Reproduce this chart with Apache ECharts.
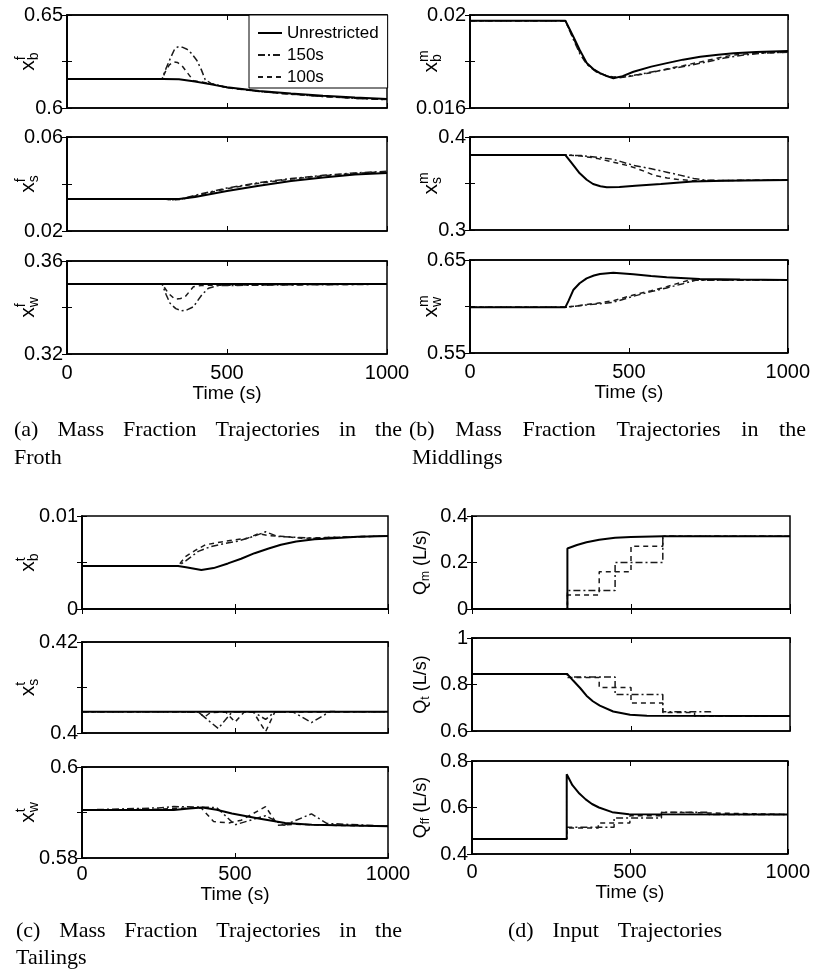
<!DOCTYPE html>
<html><head><meta charset="utf-8">
<script src="https://cdn.jsdelivr.net/npm/echarts@6/dist/echarts.min.js"></script>
<style>html,body{margin:0;padding:0;background:#fff}#c{width:813px;height:974px}</style>
</head><body><div id="c"></div>
<script>
// ---------------- DATA ----------------
const SERIES_NAMES = ['Unrestricted', '150s', '100s'];
const TIME_TICKS = [0, 500, 1000];
const TIME_LABEL = 'Time (s)';

// (a) Froth
const xbF_unres = [[0,0.6156],[300,0.6156],[350,0.6154],[400,0.6143],[450,0.6127],[500,0.6112],[600,0.6092],[700,0.6078],[800,0.6066],[900,0.6056],[1000,0.6048]];
const xbF_150 = [[0,0.6156],[297,0.6156],[310,0.6215],[323,0.6267],[335,0.6312],[345,0.6328],[360,0.6327],[375,0.6316],[390,0.6292],[406,0.6255],[420,0.6205],[432,0.6152],[450,0.6132],[500,0.6110],[600,0.6089],[700,0.6074],[800,0.6062],[900,0.6052],[1000,0.6045]];
const xbF_100 = [[0,0.6156],[297,0.6156],[310,0.6205],[320,0.6232],[333,0.6248],[345,0.6245],[360,0.6226],[375,0.6192],[395,0.6147],[450,0.6131],[500,0.6109],[600,0.6089],[700,0.6074],[800,0.6062],[900,0.6052],[1000,0.6045]];

const xsF_unres = [[0,0.0336],[350,0.0336],[400,0.0345],[500,0.0370],[600,0.0393],[700,0.0413],[800,0.0428],[900,0.0440],[1000,0.0447]];
const xsF_150 = [[0,0.0336],[300,0.0336],[330,0.0333],[360,0.0337],[400,0.0352],[500,0.0383],[600,0.0406],[700,0.0423],[800,0.0437],[900,0.0447],[1000,0.0454]];
const xsF_100 = [[0,0.0336],[300,0.0336],[330,0.0332],[360,0.0335],[400,0.0349],[500,0.0380],[600,0.0403],[700,0.0421],[800,0.0435],[900,0.0445],[1000,0.0452]];

const xwF_unres = [[0,0.3501],[1000,0.3501]];
const xwF_150 = [[0,0.3501],[297,0.3501],[310,0.3455],[322,0.3418],[340,0.3395],[358,0.3386],[375,0.3390],[395,0.3403],[421,0.3454],[442,0.3483],[470,0.3494],[600,0.3496],[800,0.3498],[1000,0.3500]];
const xwF_100 = [[0,0.3501],[297,0.3501],[317,0.3461],[337,0.3436],[355,0.3439],[369,0.3446],[395,0.3489],[420,0.3495],[600,0.3497],[800,0.3499],[1000,0.3500]];

// (b) Middlings
const xbM_unres = [[0,0.01975],[300,0.01975],[325,0.01907],[345,0.01850],[367,0.01794],[390,0.01765],[409,0.01750],[430,0.01737],[451,0.01728],[480,0.01737],[514,0.01756],[570,0.01778],[619,0.01793],[670,0.01808],[724,0.01820],[780,0.01829],[829,0.01835],[900,0.01841],[1000,0.01845]];
const xbM_150 = [[0,0.01975],[300,0.01975],[325,0.01895],[345,0.01835],[367,0.01788],[400,0.01752],[440,0.01734],[480,0.01732],[530,0.01744],[600,0.01762],[680,0.01780],[740,0.01797],[800,0.01815],[860,0.01828],[920,0.01836],[1000,0.01840]];
const xbM_100 = [[0,0.01975],[300,0.01975],[325,0.01900],[345,0.01840],[367,0.01790],[400,0.01755],[430,0.01738],[467,0.01730],[520,0.01740],[570,0.01752],[619,0.01768],[670,0.01782],[724,0.01798],[780,0.01815],[829,0.01828],[900,0.01836],[1000,0.01840]];

const xsM_unres = [[0,0.3806],[300,0.3806],[320,0.3720],[345,0.3610],[367,0.3540],[387,0.3495],[410,0.3470],[430,0.3459],[470,0.3462],[520,0.3475],[600,0.3495],[700,0.3522],[800,0.3530],[1000,0.3538]];
const xsM_150 = [[0,0.3806],[300,0.3806],[350,0.3800],[409,0.3780],[450,0.3760],[475,0.3735],[514,0.3695],[570,0.3658],[619,0.3622],[660,0.3590],[703,0.3555],[740,0.3536],[800,0.3532],[1000,0.3538]];
const xsM_100 = [[0,0.3806],[300,0.3806],[350,0.3795],[400,0.3770],[450,0.3730],[500,0.3690],[550,0.3630],[577,0.3590],[620,0.3560],[650,0.3545],[700,0.3530],[1000,0.3538]];

const xwM_unres = [[0,0.5991],[300,0.5991],[310,0.6060],[325,0.6177],[345,0.6250],[367,0.6303],[390,0.6333],[409,0.6349],[451,0.6364],[514,0.6346],[570,0.6328],[619,0.6314],[723,0.6296],[850,0.6289],[1000,0.6285]];
const xwM_150 = [[0,0.5991],[300,0.5991],[360,0.6015],[410,0.6030],[451,0.6045],[514,0.6110],[570,0.6160],[619,0.6200],[670,0.6245],[710,0.6282],[1000,0.6285]];
const xwM_100 = [[0,0.5991],[300,0.5991],[367,0.6022],[400,0.6035],[451,0.6062],[514,0.6124],[570,0.6170],[619,0.6213],[660,0.6255],[692,0.6285],[1000,0.6285]];

// (c) Tailings
const xbT_unres = [[0,0.00462],[314,0.00462],[340,0.00450],[390,0.00420],[430,0.00440],[477,0.00490],[520,0.00540],[564,0.00600],[610,0.00650],[650,0.00690],[700,0.00725],[760,0.00750],[820,0.00762],[900,0.00778],[1000,0.00785]];
const xbT_150 = [[0,0.00462],[314,0.00462],[340,0.00520],[380,0.00620],[420,0.00670],[460,0.00700],[510,0.00730],[560,0.00780],[600,0.00830],[640,0.00780],[700,0.00770],[760,0.00760],[820,0.00770],[1000,0.00785]];
const xbT_100 = [[0,0.00462],[314,0.00462],[337,0.00560],[370,0.00630],[403,0.00690],[436,0.00710],[490,0.00740],[540,0.00760],[577,0.00810],[610,0.00790],[664,0.00780],[718,0.00760],[800,0.00770],[1000,0.00785]];

const xsT_unres = [[0,0.40468],[1000,0.40468]];
const xsT_150 = [[0,0.40468],[300,0.40468],[380,0.4046],[445,0.4010],[490,0.4046],[560,0.4046],[600,0.4030],[630,0.4046],[690,0.4046],[750,0.4023],[810,0.4047],[1000,0.40468]];
const xsT_100 = [[0,0.40468],[300,0.40468],[380,0.4046],[400,0.4035],[420,0.4045],[470,0.4046],[500,0.4024],[530,0.4046],[560,0.4046],[600,0.4003],[630,0.4046],[1000,0.40468]];

const xwT_unres = [[0,0.59055],[300,0.59055],[350,0.5909],[393,0.5911],[440,0.5906],[490,0.5898],[577,0.5887],[664,0.5877],[751,0.5873],[1000,0.5870]];
const xwT_150 = [[0,0.59055],[250,0.5910],[300,0.5913],[440,0.5911],[500,0.5873],[560,0.5885],[600,0.5893],[660,0.5872],[750,0.5897],[800,0.5876],[1000,0.5870]];
const xwT_100 = [[0,0.59055],[250,0.5907],[300,0.5909],[390,0.5910],[430,0.5880],[480,0.5877],[520,0.5883],[600,0.5913],[640,0.5872],[700,0.5874],[800,0.5872],[1000,0.5870]];

// (d) Inputs
const Qm_unres = [[0,0],[300,0],[300,0.26],[330,0.275],[360,0.287],[400,0.298],[450,0.306],[500,0.310],[600,0.313],[1000,0.313]];
const Qm_150 = [[0,0],[300,0],[300,0.08],[450,0.08],[450,0.20],[600,0.20],[600,0.313],[1000,0.313]];
const Qm_100 = [[0,0],[300,0],[300,0.06],[400,0.06],[400,0.16],[500,0.16],[500,0.27],[600,0.27],[600,0.313],[1000,0.313]];

const Qt_unres = [[0,0.845],[300,0.845],[318,0.817],[340,0.785],[360,0.752],[380,0.728],[402,0.709],[444,0.684],[497,0.670],[550,0.666],[1000,0.665]];
const Qt_150 = [[0,0.845],[300,0.845],[300,0.832],[450,0.832],[450,0.757],[600,0.757],[600,0.683],[750,0.683],[750,0.665],[1000,0.665]];
const Qt_100 = [[0,0.845],[300,0.845],[300,0.830],[400,0.830],[400,0.787],[500,0.787],[500,0.720],[600,0.720],[600,0.680],[700,0.680],[700,0.665],[1000,0.665]];

const Qff_unres = [[0,0.465],[300,0.465],[300,0.743],[318,0.696],[340,0.660],[360,0.635],[380,0.615],[402,0.600],[444,0.580],[497,0.571],[1000,0.570]];
const Qff_150 = [[0,0.465],[300,0.465],[300,0.515],[450,0.515],[450,0.555],[600,0.555],[600,0.580],[750,0.580],[750,0.570],[1000,0.570]];
const Qff_100 = [[0,0.465],[300,0.465],[300,0.512],[400,0.512],[400,0.533],[500,0.533],[500,0.565],[600,0.565],[600,0.578],[700,0.578],[700,0.570],[1000,0.570]];

// Y-axis ranges: [min, max, interval]
const Y_RANGES = {
  xbF:[0.6,0.65,0.025], xsF:[0.02,0.06,0.02], xwF:[0.32,0.36,0.02],
  xbM:[0.016,0.02,0.002], xsM:[0.3,0.4,0.05], xwM:[0.55,0.65,0.05],
  xbT:[0,0.01,0.005], xsT:[0.4,0.42,0.01], xwT:[0.58,0.6,0.01],
  Qm:[0,0.4,0.2], Qt:[0.6,1,0.2], Qff:[0.4,0.8,0.2]
};

// ---------------- LAYOUT / STYLE ----------------
const NARROW = '"Liberation Sans Narrow","Arial Narrow","Liberation Sans",sans-serif';
const SERIF = '"Liberation Serif","Times New Roman",serif';
const mctx = document.createElement('canvas').getContext('2d');
function tw(text, size, fam){ mctx.font = size + 'px ' + fam; return mctx.measureText(text).width; }

const X = (p)=>[{t:'x',s:21},{t:p[0],s:14,dy:-7},{t:p[1],s:14,dy:6,stack:true}];
const Q = (sub)=>[{t:'Q',s:18},{t:sub,s:12,dy:5},{t:' (L/s)',s:18}];

const subplots = [
  {key:'xbF', data:[xbF_unres,xbF_150,xbF_100], g:[67,15,320,93], lab:X(['f','b']), lx:28},
  {key:'xsF', data:[xsF_unres,xsF_150,xsF_100], g:[67,137,320,94], lab:X(['f','s']), lx:28},
  {key:'xwF', data:[xwF_unres,xwF_150,xwF_100], g:[67,261,320,93], lab:X(['f','w']), lx:28, showX:true, lm:9, ng:25},
  {key:'xbM', data:[xbM_unres,xbM_150,xbM_100], g:[470,15,318,93], lab:X(['m','b']), lx:431},
  {key:'xsM', data:[xsM_unres,xsM_150,xsM_100], g:[470,137,318,93], lab:X(['m','s']), lx:431},
  {key:'xwM', data:[xwM_unres,xwM_150,xwM_100], g:[470,260,318,93], lab:X(['m','w']), lx:431, showX:true, lm:9, ng:25},
  {key:'xbT', data:[xbT_unres,xbT_150,xbT_100], g:[82,516,306,93], lab:X(['t','b']), lx:28},
  {key:'xsT', data:[xsT_unres,xsT_150,xsT_100], g:[82,642,306,91], lab:X(['t','s']), lx:28},
  {key:'xwT', data:[xwT_unres,xwT_150,xwT_100], g:[82,767,306,91], lab:X(['t','w']), lx:28, showX:true, lm:6, ng:17},
  {key:'Qm', data:[Qm_unres,Qm_150,Qm_100], g:[472,516,318,93], lab:Q('m'), lx:421, all:true},
  {key:'Qt', data:[Qt_unres,Qt_150,Qt_100], g:[472,638,318,93], lab:Q('t'), lx:421, all:true},
  {key:'Qff', data:[Qff_unres,Qff_150,Qff_100], g:[472,761,318,93], lab:Q('ff'), lx:421, all:true, showX:true, lm:8, ng:23}
];

const LINE_STYLES = [
  {color:'#000', width:2, type:'solid'},
  {color:'#1a1a1a', width:1.5, type:[7,3,2,3]},
  {color:'#1a1a1a', width:1.5, type:[5,4]}
];

function fmt(v){ return String(parseFloat(v.toFixed(6))); }

const grids = [], xAxes = [], yAxes = [], series = [], graphics = [];
const axisLineStyle = {show:true, lineStyle:{color:'#000', width:1.5}};
const tickStyle = {show:true, inside:true, length:5, lineStyle:{color:'#000', width:1}};

subplots.forEach((sp, i) => {
  const [l,t,w,h] = sp.g;
  grids.push({left:l, top:t, width:w, height:h, show:true, borderColor:'#000', borderWidth:1.5, containLabel:false});
  const common = {type:'value', gridIndex:i, min:TIME_TICKS[0], max:TIME_TICKS[TIME_TICKS.length-1], interval:TIME_TICKS[1]-TIME_TICKS[0],
    axisLine:axisLineStyle, axisTick:tickStyle, splitLine:{show:false}};
  xAxes.push(Object.assign({}, common, {position:'bottom',
    axisLabel:{show:!!sp.showX, fontSize:20, fontFamily:NARROW, color:'#000', margin:sp.lm||8, formatter: v => String(v)},
    name: sp.showX ? TIME_LABEL : '', nameLocation:'middle', nameGap: sp.ng||26,
    nameTextStyle:{fontSize:19, fontFamily:NARROW, color:'#000'}}));
  xAxes.push(Object.assign({}, common, {position:'top', axisLabel:{show:false}}));
  const [ymin,ymax,yint] = Y_RANGES[sp.key];
  const ycommon = {type:'value', gridIndex:i, min:ymin, max:ymax, interval:yint,
    axisLine:axisLineStyle, axisTick:tickStyle, splitLine:{show:false}};
  yAxes.push(Object.assign({}, ycommon, {position:'left',
    axisLabel:{show:true, fontSize:20, fontFamily:NARROW, color:'#000', margin:4,
      formatter: v => (sp.all || Math.abs(v-ymin) < 1e-9 || Math.abs(v-ymax) < 1e-9) ? fmt(v) : ''}}));
  yAxes.push(Object.assign({}, ycommon, {position:'right', axisLabel:{show:false}}));

  sp.data.forEach((d, k) => {
    series.push({type:'line', name:SERIES_NAMES[k], data:d, xAxisIndex:2*i, yAxisIndex:2*i,
      symbol:'none', showSymbol:false, lineStyle:LINE_STYLES[k], itemStyle:{color:LINE_STYLES[k].color},
      z: k===0 ? 4 : 3, silent:true, animation:false, clip:true});
  });

  // rotated math label
  let x = 0, prevStart = 0; const items = [];
  sp.lab.forEach(p => {
    const wd = tw(p.t, p.s, NARROW);
    const start = p.stack ? prevStart : x;
    items.push({t:p.t, s:p.s, dy:p.dy||0, x:start});
    if (!p.stack) prevStart = start;
    x = Math.max(x, start + wd);
  });
  const off = -x/2;
  graphics.push({type:'group', x:sp.lx, y:t + h/2, rotation:Math.PI/2,
    children: items.map(it => ({type:'text', x:it.x + off, y:it.dy,
      style:{text:it.t, fontSize:it.s, fontFamily:NARROW, fill:'#000', verticalAlign:'middle', align:'left'}}))});
});

// captions
const CAPTIONS = [
  {words:'(a) Mass Fraction Trajectories in the', x0:14, x1:402, y:430},
  {words:'Froth', x0:14, y:458},
  {words:'(b) Mass Fraction Trajectories in the', x0:409, x1:806, y:430},
  {words:'Middlings', x0:412, y:458},
  {words:'(c) Mass Fraction Trajectories in the', x0:16, x1:402, y:931},
  {words:'Tailings', x0:16, y:958},
  {words:'(d) Input Trajectories', x0:508, x1:722, y:931}
];
const CAP_SIZE = 22;
CAPTIONS.forEach(c => {
  const ws = c.words.split(' ');
  if (!c.x1 || ws.length === 1) {
    graphics.push({type:'text', x:c.x0, y:c.y, style:{text:c.words, fontSize:CAP_SIZE, fontFamily:SERIF, fill:'#000', verticalAlign:'middle'}});
    return;
  }
  const widths = ws.map(w => tw(w, CAP_SIZE, SERIF));
  const sum = widths.reduce((a,b)=>a+b, 0);
  const gap = (c.x1 - c.x0 - sum) / (ws.length - 1);
  let cx = c.x0;
  ws.forEach((w, j) => {
    graphics.push({type:'text', x:cx, y:c.y, style:{text:w, fontSize:CAP_SIZE, fontFamily:SERIF, fill:'#000', verticalAlign:'middle'}});
    cx += widths[j] + gap;
  });
});

const chart = echarts.init(document.getElementById('c'), null, {renderer:'canvas'});
chart.setOption({
  animation:false,
  backgroundColor:'#fff',
  grid:grids, xAxis:xAxes, yAxis:yAxes, series:series,
  legend:{data:SERIES_NAMES, orient:'vertical', left:249, top:15, itemWidth:24, itemHeight:14, itemGap:4,
    padding:[9,9,2,8], backgroundColor:'#fff', borderColor:'#000', borderWidth:1, selectedMode:false, z:20,
    itemStyle:{color:'rgba(0,0,0,0)', borderColor:'rgba(0,0,0,0)', borderWidth:0, opacity:0},
    textStyle:{fontSize:17, lineHeight:18, fontFamily:NARROW, color:'#000'}},
  graphic:graphics
});
</script></body></html>
